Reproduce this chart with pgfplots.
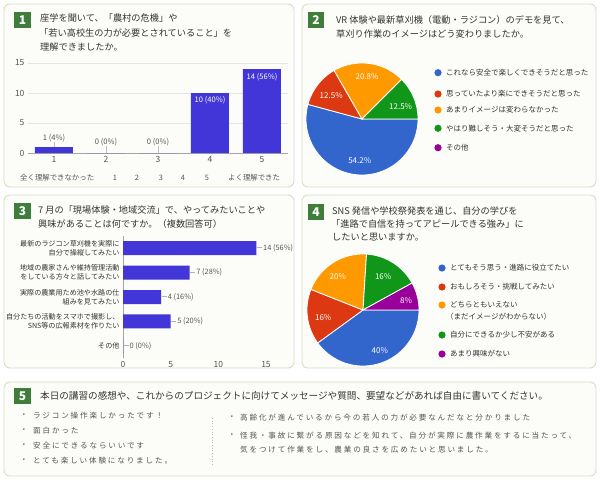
\documentclass[border=0pt]{standalone}
\usepackage{pgfplots}
\pgfplotsset{compat=1.18}
\usepackage{fontspec}
\setmainfont{Noto Sans CJK JP}
\newfontfamily\hand{Noto Sans CJK JP}[LetterSpace=24]
\definecolor{pborder}{HTML}{D6DFC4}
\definecolor{pfill}{HTML}{FCFDF8}
\definecolor{badge}{HTML}{3E7D3A}
\definecolor{barblue}{HTML}{4336D9}
\definecolor{txt}{HTML}{333333}
\definecolor{lab}{HTML}{555555}
\definecolor{pblue}{HTML}{3366CC}
\definecolor{pred}{HTML}{DC3912}
\definecolor{porange}{HTML}{FF9900}
\definecolor{pgreen}{HTML}{109618}
\definecolor{ppurple}{HTML}{990099}
\newcommand{\fs}[1]{\fontsize{#1pt}{#1pt}\selectfont}
\newcommand{\leader}{\textcolor{gray!60}{\rule[2.6pt]{5pt}{0.5pt}}\hspace{1pt}}
% pie slice: colour, cumulative percent before, percent
\newcommand{\pieslice}[3]{%
  \addplot[fill=#1, draw=white, line width=0.8pt, domain={-3.6*(#2+#3)}:{-3.6*(#2)}, samples=60]
    ({cos(x)},{sin(x)}) -- (axis cs:0,0) -- cycle;}
\newcommand{\tl}[3]{\node[anchor=west, inner sep=0pt, text=txt, font=\fs{9.2}] at (#1,#2) {#3};}
\newcommand{\badge}[4]{\fill[badge] (#1,#2) rectangle (#3,#4);
  \node[text=white, font=\fs{12}\bfseries, inner sep=0pt] at ({(#1+#3)/2},{(#2+#4)/2}) {\arabic{badgectr}};}
\newcounter{badgectr}
\newcommand{\legdot}[4]{\fill[#1] (#2,#3) circle (3.6pt);
  \node[anchor=west, inner sep=0pt, text=txt, font=\fs{7.5}] at (#2+8,#3) {#4};}
\newcommand{\hl}[3]{\node[anchor=west, inner sep=0pt, text=lab, font=\hand\fs{7.6}] at (#1,#2) {#3};}
\begin{document}
\begin{tikzpicture}
\fill[white] (0pt,0pt) rectangle (600pt,-480pt);
\begin{scope}[x=1pt,y=-1pt]
 % panels
 \draw[pborder, fill=pfill, line width=0.9pt, rounded corners=6pt] (4,4) rectangle (294,187);
 \draw[pborder, fill=pfill, line width=0.9pt, rounded corners=6pt] (302,4) rectangle (596,187);
 \draw[pborder, fill=pfill, line width=0.9pt, rounded corners=6pt] (4,195) rectangle (294,368);
 \draw[pborder, fill=pfill, line width=0.9pt, rounded corners=6pt] (302,195) rectangle (596,368);
 \draw[pborder, fill=pfill, line width=0.9pt, rounded corners=6pt] (4,382) rectangle (596,476);
 % badges
 \setcounter{badgectr}{1}\badge{14}{12}{31}{28}
 \setcounter{badgectr}{2}\badge{308}{12}{324}{28}
 \setcounter{badgectr}{3}\badge{14}{203}{31}{219}
 \setcounter{badgectr}{4}\badge{308}{204}{324}{220}
 \setcounter{badgectr}{5}\badge{14}{388}{31}{404}
 % titles
 \tl{40}{18}{座学を聞いて、「農村の危機」や}
 \tl{39}{33}{「若い高校生の力が必要とされていること」を}
 \tl{40}{47}{理解できましたか。}
 \tl{336}{20}{VR 体験や最新草刈機（電動・ラジコン）のデモを見て、}
 \tl{336}{34}{草刈り作業のイメージはどう変わりましたか。}
 \tl{38}{210}{7 月の「現場体験・地域交流」で、やってみたいことや}
 \tl{38}{224}{興味があることは何ですか。（複数回答可）}
 \tl{332}{211}{SNS 発信や学校祭発表を通じ、自分の学びを}
 \tl{331}{224}{「進路で自信を持ってアピールできる強み」に}
 \tl{332}{237}{したいと思いますか。}
 \node[anchor=west, inner sep=0pt, text=txt, font=\fs{9.6}] at (40,396) {本日の講習の感想や、これからのプロジェクトに向けてメッセージや質問、要望などがあれば自由に書いてください。};
 % chart 1 scale row
 \begin{scope}[every node/.style={inner sep=0pt, text=lab, font=\fs{7.4}}]
  \node[anchor=west] at (20,178) {全く理解できなかった};
  \node at (115,178) {1}; \node at (137,178) {2}; \node at (161,178) {3};
  \node at (183,178) {4}; \node at (207,178) {5};
  \node[anchor=west] at (228,178) {よく理解できた};
 \end{scope}
 % legends
 \legdot{pblue}{438}{72.7}{これなら安全で楽しくできそうだと思った}
 \legdot{pred}{438}{94}{思っていたより楽にできそうだと思った}
 \legdot{porange}{438}{110}{あまりイメージは変わらなかった}
 \legdot{pgreen}{438}{128.3}{やはり難しそう・大変そうだと思った}
 \legdot{ppurple}{438}{147.7}{その他}
 \legdot{pblue}{442}{268}{とてもそう思う・進路に役立てたい}
 \legdot{pred}{442}{287}{おもしろそう・挑戦してみたい}
 \legdot{porange}{442}{305}{どちらともいえない}
 \node[anchor=west, inner sep=0pt, text=txt, font=\fs{7.5}] at (446,317) {（まだイメージがわからない）};
 \legdot{pgreen}{442}{335}{自分にできるか少し不安がある}
 \legdot{ppurple}{442}{354}{あまり興味がない}
 % comments
 \draw[gray!50, dotted, line width=0.7pt] (212,418) -- (212,466);
 \hl{20}{416}{・}\hl{33}{416}{ラジコン操作楽しかったです！}
 \hl{20}{431}{・}\hl{33}{431}{面白かった}
 \hl{20}{446}{・}\hl{33}{446}{安全にできるならいいです}
 \hl{20}{461}{・}\hl{33}{461}{とても楽しい体験になりました。}
 \hl{228}{418}{・}\hl{240}{418}{高齢化が進んでいるから今の若人の力が必要なんだなと分かりました}
 \hl{228}{436}{・}\hl{240}{436}{怪我・事故に繋がる原因などを知れて、自分が実際に農作業をするに当たって、}
 \hl{240}{450}{気をつけて作業をし、農業の良さを広めたいと思いました。}
\end{scope}

% ---------- chart 1 ----------
\begin{axis}[at={(28pt,-153pt)}, anchor=south west, scale only axis,
  width=260pt, height=90pt, xmin=0.5, xmax=5.5, ymin=0, ymax=15,
  xtick={1,2,3,4,5}, ytick={0,5,10,15},
  ymajorgrids, grid style={draw=gray!20, line width=0.5pt},
  axis line style={draw=none}, major tick length=0pt,
  extra y ticks={0}, extra y tick labels={}, extra y tick style={grid style={draw=gray!70, line width=0.6pt}},
  tick label style={font=\fs{8.5}, text=lab},
  /pgf/number format/assume math mode=true, clip=false]
 \addplot[ybar, bar width=38pt, fill=barblue, draw=none] coordinates {(1,1) (2,0) (3,0) (4,10) (5,14)};
 \draw[gray!50] (axis cs:1,1) -- (axis cs:1,1.85);
 \draw[gray!50] (axis cs:2,0) -- (axis cs:2,1.15);
 \draw[gray!50] (axis cs:3,0) -- (axis cs:3,1.15);
 \node[font=\fs{7.6}, text=lab] at (axis cs:1,2.55) {1 (4\%)};
 \node[font=\fs{7.6}, text=lab] at (axis cs:2,1.85) {0 (0\%)};
 \node[font=\fs{7.6}, text=lab] at (axis cs:3,1.85) {0 (0\%)};
 \node[font=\fs{7.6}, text=white] at (axis cs:4,8.8) {10 (40\%)};
 \node[font=\fs{7.6}, text=white] at (axis cs:5,12.7) {14 (56\%)};
\end{axis}

% ---------- chart 2 (pie) ----------
\begin{axis}[at={(362pt,-119pt)}, anchor=center, scale only axis, width=112pt, height=112pt,
  xmin=-1, xmax=1, ymin=-1, ymax=1, hide axis, clip=false]
 \pieslice{pblue}{0}{54.2}
 \pieslice{pred}{54.2}{12.5}
 \pieslice{porange}{66.7}{20.8}
 \pieslice{pgreen}{87.5}{12.5}
 \begin{scope}[every node/.style={font=\fs{8}, text=white}]
 \node at (axis cs:-0.04,-0.74) {54.2\%};
 \node at (axis cs:-0.55,0.42) {12.5\%};
 \node at (axis cs:0.09,0.75) {20.8\%};
 \node at (axis cs:0.69,0.23) {12.5\%};
 \end{scope}
\end{axis}

% ---------- chart 3 ----------
\begin{axis}[at={(123pt,-358pt)}, anchor=south west, scale only axis,
  width=143pt, height=122pt, xmin=0, xmax=15, ymin=-0.5, ymax=4.5,
  xtick={0,5,10,15}, ytick={0,1,2,3,4},
  yticklabels={その他, {自分たちの活動をスマホで撮影し、\\SNS等の広報素材を作りたい}, {実際の農業用ため池や水路の仕\\組みを見てみたい}, {地域の農家さんや維持管理活動\\をしている方々と話してみたい}, {最新のラジコン草刈機を実際に\\自分で操縦してみたい}},
  yticklabel style={align=right, font=\fontsize{7.1}{9}\selectfont, text=txt},
  xticklabel style={font=\fs{8.5}, text=lab},
  axis x line*=bottom, axis y line*=left,
  x axis line style={draw=none}, y axis line style={draw=gray!70},
  major tick length=0pt,
  /pgf/number format/assume math mode=true, clip=false]
 \addplot[xbar, bar width=14pt, fill=barblue, draw=none,
   point meta=explicit symbolic, nodes near coords={\leader\pgfplotspointmeta},
   nodes near coords align={anchor=west},
   every node near coord/.append style={font=\fs{7.4}, text=lab, inner sep=0.5pt}]
   coordinates {(14,4) [14 (56\%)] (7,3) [7 (28\%)] (4,2) [4 (16\%)] (5,1) [5 (20\%)] (0,0) [0 (0\%)]};
\end{axis}

% ---------- chart 4 (pie) ----------
\begin{axis}[at={(363pt,-310pt)}, anchor=center, scale only axis, width=112pt, height=112pt,
  xmin=-1, xmax=1, ymin=-1, ymax=1, hide axis, clip=false]
 \pieslice{pblue}{0}{40}
 \pieslice{pred}{40}{16}
 \pieslice{porange}{56}{20}
 \pieslice{pgreen}{76}{16}
 \pieslice{ppurple}{92}{8}
 \begin{scope}[every node/.style={font=\fs{8}, text=white}]
 \node at (axis cs:-0.45,0.6) {20\%};
 \node at (axis cs:0.36,0.6) {16\%};
 \node at (axis cs:0.77,0.17) {8\%};
 \node at (axis cs:-0.71,-0.14) {16\%};
 \node at (axis cs:0.30,-0.72) {40\%};
 \end{scope}
\end{axis}
\end{tikzpicture}
\end{document}
